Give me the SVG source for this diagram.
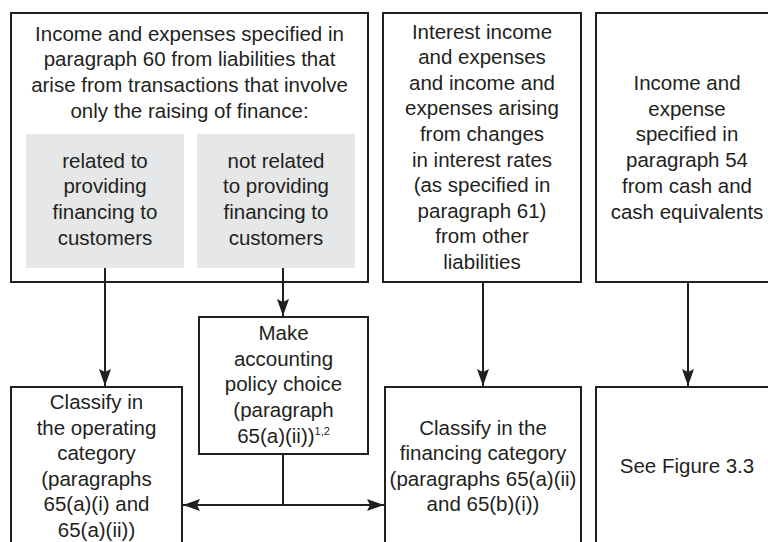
<svg xmlns="http://www.w3.org/2000/svg" width="768" height="542" viewBox="0 0 768 542">
<defs>
<style>
.box{fill:#ffffff;stroke:#231f20;stroke-width:2}
.sub{fill:#e6e7e8;stroke:none}
.t{font-family:"Liberation Sans",Arial,Helvetica,sans-serif;font-size:20.5px;fill:#231f20;text-anchor:middle}
.sup{font-size:11px}
.ln{stroke:#231f20;stroke-width:2;fill:none}
</style>
<marker id="ah" markerWidth="18" markerHeight="12" refX="17" refY="6" orient="auto-start-reverse" markerUnits="userSpaceOnUse">
<path d="M0,0 L17,6 L0,12 L3,6 Z" fill="#231f20"/>
</marker>
</defs>
<rect width="768" height="542" fill="#ffffff"/>

<g id="n-liabilities-finance">
<rect class="box" x="11" y="13" width="357" height="269"/>
<text class="t" x="189.5" y="40.5">Income and expenses specified in</text>
<text class="t" x="189.5" y="66.3">paragraph 60 from liabilities that</text>
<text class="t" x="189.5" y="92.1">arise from transactions that involve</text>
<text class="t" x="189.5" y="117.9">only the raising of finance:</text>
</g>
<g id="n-related">
<rect class="sub" x="26" y="134" width="158" height="134"/>
<text class="t" x="105" y="167.5">related to</text>
<text class="t" x="105" y="193.2">providing</text>
<text class="t" x="105" y="218.9">financing to</text>
<text class="t" x="105" y="244.6">customers</text>
</g>
<g id="n-not-related">
<rect class="sub" x="197" y="134" width="158" height="134"/>
<text class="t" x="276" y="167.5">not related</text>
<text class="t" x="276" y="193.2">to providing</text>
<text class="t" x="276" y="218.9">financing to</text>
<text class="t" x="276" y="244.6">customers</text>
</g>
<g id="n-interest">
<rect class="box" x="383" y="13" width="198" height="269"/>
<text class="t" x="482" y="38.5">Interest income</text>
<text class="t" x="482" y="64.1">and expenses</text>
<text class="t" x="482" y="89.7">and income and</text>
<text class="t" x="482" y="115.3">expenses arising</text>
<text class="t" x="482" y="140.9">from changes</text>
<text class="t" x="482" y="166.5">in interest rates</text>
<text class="t" x="482" y="192.1">(as specified in</text>
<text class="t" x="482" y="217.7">paragraph 61)</text>
<text class="t" x="482" y="243.3">from other</text>
<text class="t" x="482" y="268.9">liabilities</text>
</g>
<g id="n-cash">
<rect class="box" x="596" y="13" width="190" height="269"/>
<text class="t" x="687" y="90">Income and</text>
<text class="t" x="687" y="115.7">expense</text>
<text class="t" x="687" y="141.4">specified in</text>
<text class="t" x="687" y="167.1">paragraph 54</text>
<text class="t" x="687" y="192.8">from cash and</text>
<text class="t" x="687" y="218.5">cash equivalents</text>
</g>
<g id="n-policy">
<rect class="box" x="199" y="317" width="169" height="137"/>
<text class="t" x="283.5" y="340">Make</text>
<text class="t" x="283.5" y="365.7">accounting</text>
<text class="t" x="283.5" y="391.4">policy choice</text>
<text class="t" x="283.5" y="417.1">(paragraph</text>
<text class="t" x="283.5" y="442.8">65(a)(ii))<tspan class="sup" dy="-8">1,2</tspan></text>
</g>
<g id="n-operating">
<rect class="box" x="11" y="387" width="171" height="170"/>
<text class="t" x="96.5" y="409">Classify in</text>
<text class="t" x="96.5" y="434.5">the operating</text>
<text class="t" x="96.5" y="460">category</text>
<text class="t" x="96.5" y="485.5">(paragraphs</text>
<text class="t" x="96.5" y="511">65(a)(i) and</text>
<text class="t" x="96.5" y="536.5">65(a)(ii))</text>
</g>
<g id="n-financing">
<rect class="box" x="385" y="387" width="196" height="170"/>
<text class="t" x="483" y="434.5">Classify in the</text>
<text class="t" x="483" y="460">financing category</text>
<text class="t" x="483" y="485.5">(paragraphs 65(a)(ii)</text>
<text class="t" x="483" y="511">and 65(b)(i))</text>
</g>
<g id="n-see">
<rect class="box" x="596" y="387" width="190" height="170"/>
<text class="t" x="687" y="473">See Figure 3.3</text>
</g>

<g id="connectors">
<line class="ln" x1="105" y1="268" x2="105" y2="386" marker-end="url(#ah)"/>
<line class="ln" x1="283" y1="268" x2="283" y2="316" marker-end="url(#ah)"/>
<line class="ln" x1="483" y1="282" x2="483" y2="386" marker-end="url(#ah)"/>
<line class="ln" x1="688" y1="282" x2="688" y2="386" marker-end="url(#ah)"/>
<line class="ln" x1="283" y1="454" x2="283" y2="505"/>
<line class="ln" x1="183" y1="505" x2="384" y2="505" marker-start="url(#ah)" marker-end="url(#ah)"/>
</g>
</svg>
